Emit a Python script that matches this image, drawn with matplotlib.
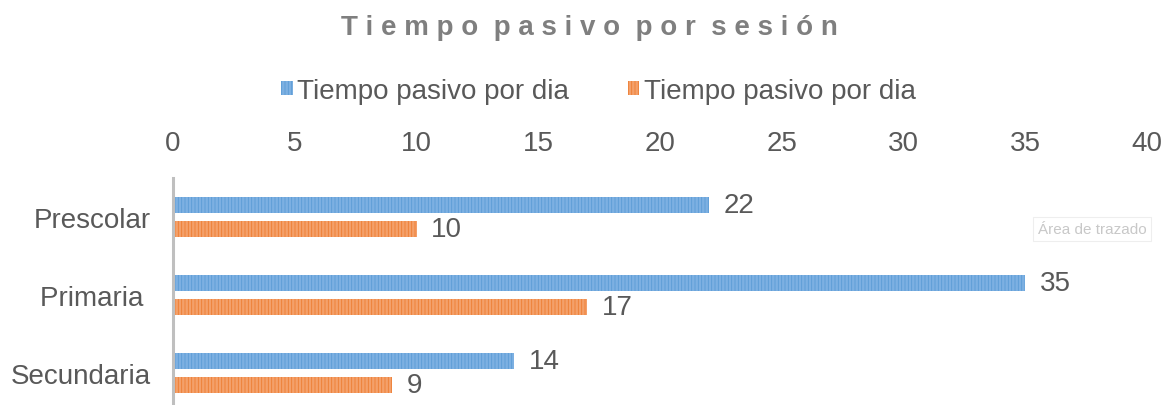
import matplotlib
matplotlib.use("Agg")
import matplotlib.pyplot as plt
from matplotlib.patches import Patch
import numpy as np

plt.rcParams["font.family"] = ["Liberation Sans", "DejaVu Sans"]
plt.rcParams["hatch.linewidth"] = 0.6

categories = ["Prescolar", "Primaria ", "Secundaria"]
series_names = ["Tiempo pasivo por dia", "Tiempo pasivo por dia"]
blue_values = [22, 35, 14]
orange_values = [10, 17, 9]
x_ticks = [0, 5, 10, 15, 20, 25, 30, 35, 40]
title = "Tiempo pasivo por sesión"

TEXT = "#595959"
BLUE_FACE, BLUE_HATCH = "#7DB0E2", "#5B9BD5"
ORANGE_FACE, ORANGE_HATCH = "#F4A06A", "#ED7D31"

fig = plt.figure(figsize=(11.65, 4.06), dpi=100)
# axes box in pixel terms: x 173..1147, y 179..406 (from top)
ax = fig.add_axes([173 / 1165, 0, (1147 - 173) / 1165, (406 - 179) / 406])

y = np.arange(len(categories))
h = 0.205
off = 0.154
ax.barh(y - off, blue_values, height=h, color=BLUE_FACE, edgecolor=BLUE_HATCH,
        hatch="|||||", linewidth=0)
ax.barh(y + off, orange_values, height=h, color=ORANGE_FACE, edgecolor=ORANGE_HATCH,
        hatch="|||||", linewidth=0)

for yi, v in zip(y, blue_values):
    ax.text(v + 0.6, yi - off, str(v), va="center", ha="left", fontsize=20, color=TEXT)
for yi, v in zip(y, orange_values):
    ax.text(v + 0.6, yi + off, str(v), va="center", ha="left", fontsize=20, color=TEXT)

ax.set_xlim(0, 40)
ax.set_ylim(2.41, -0.5)
ax.set_xticks(x_ticks)
ax.set_yticks(y)
ax.set_yticklabels(categories)
ax.xaxis.tick_top()
ax.tick_params(axis="x", length=0, pad=16, labelsize=20, labelcolor=TEXT)
ax.tick_params(axis="y", length=0, pad=16, labelsize=20, labelcolor=TEXT)
for s in ["top", "right", "bottom"]:
    ax.spines[s].set_visible(False)
ax.spines["left"].set_color("#BFBFBF")
ax.spines["left"].set_linewidth(2.2)

# letter-spaced title
spaced = "  ".join(" ".join(w) for w in title.split(" "))
fig.text(589 / 1165, 1 - 28 / 406, spaced, ha="center", va="center", fontsize=20,
         fontweight="bold", color="#7F7F7F")

handles = [
    Patch(facecolor=BLUE_FACE, edgecolor=BLUE_HATCH, hatch="|||||", linewidth=0),
    Patch(facecolor=ORANGE_FACE, edgecolor=ORANGE_HATCH, hatch="|||||", linewidth=0),
]
leg = fig.legend(handles, series_names, loc="center", bbox_to_anchor=(0.5137, 1 - 92 / 406),
                 ncol=2, frameon=False, fontsize=20, handlelength=0.4, handleheight=0.4,
                 handletextpad=0.15, columnspacing=2.15)
for t in leg.get_texts():
    t.set_color(TEXT)

fig.text(1092 / 1165, 1 - 230 / 406, "Área de trazado", ha="center", va="center",
         fontsize=11, color="#C8C8C8",
         bbox=dict(boxstyle="square,pad=0.3", facecolor="white", edgecolor="#EEEEEE",
                   linewidth=0.8))

fig.savefig("out.png", dpi=100)
